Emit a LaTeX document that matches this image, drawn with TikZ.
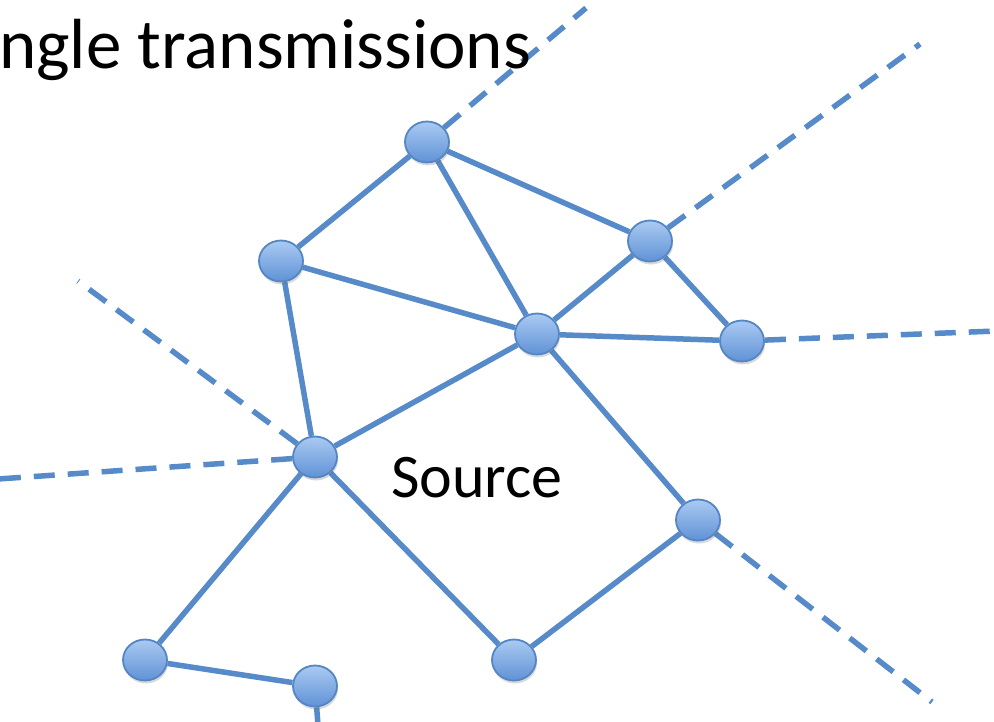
\documentclass[tikz,border=0pt]{standalone}
\usepackage{fontspec}
\setmainfont{Carlito}
\usetikzlibrary{shapes.geometric,shadows,backgrounds}
\definecolor{edgeblue}{RGB}{86,138,200}
\definecolor{nodeborder}{RGB}{84,134,196}
\definecolor{nodetop}{RGB}{170,202,242}
\definecolor{nodebot}{RGB}{96,146,214}
\begin{document}
\begin{tikzpicture}[x=1pt,y=-1pt,
  netnode/.style={ellipse, minimum width=44pt, minimum height=41pt, inner sep=0pt,
    draw=nodeborder, line width=1.8pt, top color=nodetop, bottom color=nodebot,
    drop shadow={shadow xshift=1pt, shadow yshift=-3pt, opacity=0.25, fill=black!60}},
  link/.style={draw=edgeblue, line width=5.5pt},
  dlink/.style={draw=edgeblue, line width=5.5pt, dash pattern=on 21pt off 13pt}]
\useasboundingbox (0,0) rectangle (994,721);
\node[netnode] (A) at (427,142) {};
\node[netnode] (B) at (281,261) {};
\node[netnode] (C) at (650,241) {};
\node[netnode] (D) at (537,334) {};
\node[netnode] (E) at (742,341) {};
\node[netnode] (F) at (315,457) {};
\node[netnode] (G) at (698,520) {};
\node[netnode] (H) at (145,660) {};
\node[netnode] (I) at (315,686) {};
\node[netnode] (J) at (514,660) {};
\coordinate (tA) at (586,8);
\coordinate (tC) at (920,44);
\coordinate (tE) at (996,331);
\coordinate (tF1) at (78,281);
\coordinate (tF2) at (-2,479);
\coordinate (tG) at (932,702);
\coordinate (tI) at (318,725);
\begin{scope}[on background layer]
\draw[link] (A) -- (B);
\draw[link] (A) -- (C);
\draw[link] (A) -- (D);
\draw[link] (B) -- (D);
\draw[link] (B) -- (F);
\draw[link] (C) -- (D);
\draw[link] (C) -- (E);
\draw[link] (D) -- (E);
\draw[link] (D) -- (F);
\draw[link] (D) -- (G);
\draw[link] (F) -- (H);
\draw[link] (F) -- (J);
\draw[link] (J) -- (G);
\draw[link] (H) -- (I);
\draw[link] (I) -- (tI);
\draw[dlink] (A) -- (tA);
\draw[dlink] (C) -- (tC);
\draw[dlink] (E) -- (tE);
\draw[dlink] (F) -- (tF1);
\draw[dlink] (F) -- (tF2);
\draw[dlink] (G) -- (tG);
\end{scope}
\node[anchor=base west, inner sep=0pt, font=\fontsize{71}{82}\selectfont] (title) at (-1,68) {ngle transmissions};
\node[anchor=base, inner sep=0pt, font=\fontsize{62}{72}\selectfont] (src) at (477,497) {Source};
\end{tikzpicture}
\end{document}
